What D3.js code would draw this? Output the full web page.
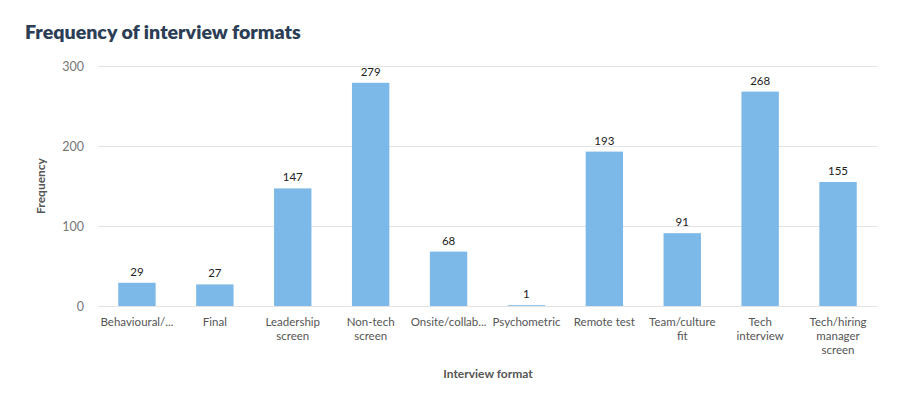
<!DOCTYPE html>
<html><head><meta charset="utf-8">
<script src="https://cdn.jsdelivr.net/npm/d3@7"></script>
<style>body{margin:0;background:#fff;font-family:Lato,"Open Sans",sans-serif;}</style>
</head><body><svg id="c" width="908" height="413"></svg>
<script>
const categories = [["Behavioural/..."],["Final"],["Leadership","screen"],["Non-tech","screen"],["Onsite/collab..."],["Psychometric"],["Remote test"],["Team/culture","fit"],["Tech","interview"],["Tech/hiring","manager","screen"]];
const values = [29,27,147,279,68,1,193,91,268,155];
const yTicks = [0,100,200,300];

const svg = d3.select("#c");
const m = {l:98, r:877, t:66, b:306};
const x = d3.scaleBand().domain(d3.range(categories.length)).range([m.l,m.r]).paddingInner(0.52).paddingOuter(0.26);
const y = d3.scaleLinear().domain([0,300]).range([m.b,m.t]);

svg.append("text").attr("x",25).attr("y",39).text("Frequency of interview formats")
  .attr("font-size",19.6).attr("font-weight",800).attr("fill","#2c3e55").attr("font-family","Lato, sans-serif");

const ya = svg.append("g").attr("transform",`translate(${m.l},0)`)
  .call(d3.axisLeft(y).tickValues(yTicks).tickSize(-(m.r-m.l)).tickPadding(14));
ya.select(".domain").remove();
ya.selectAll("line").attr("stroke","#e3e3e3");
ya.selectAll("text").attr("fill","#777").attr("font-size",12.5).attr("font-family","Lato, sans-serif");

svg.selectAll("rect.bar").data(values).enter().append("rect").attr("class","bar")
  .attr("x",(d,i)=>x(i)).attr("width",x.bandwidth())
  .attr("y",d=>y(d)).attr("height",d=>y(0)-y(d)).attr("fill","#7db9e8");

svg.selectAll("text.val").data(values).enter().append("text").attr("class","val")
  .attr("x",(d,i)=>x(i)+x.bandwidth()/2).attr("y",d=>y(d)-7)
  .attr("text-anchor","middle").attr("font-size",11.5).attr("fill","#222").text(d=>d);

const xl = svg.append("g");
categories.forEach((lines,i)=>{
  const t = xl.append("text").attr("text-anchor","middle").attr("font-size",11.5).attr("fill","#555");
  lines.forEach((s,j)=>t.append("tspan").attr("x",x(i)+x.bandwidth()/2).attr("y",326+j*14).text(s));
});

svg.append("text").attr("x",488).attr("y",378).attr("text-anchor","middle")
  .attr("font-size",12).attr("font-weight",700).attr("fill","#555").text("Interview format");
svg.append("text").attr("transform","translate(45,186) rotate(-90)").attr("text-anchor","middle")
  .attr("font-size",12).attr("font-weight",700).attr("fill","#555").text("Frequency");
</script></body></html>
